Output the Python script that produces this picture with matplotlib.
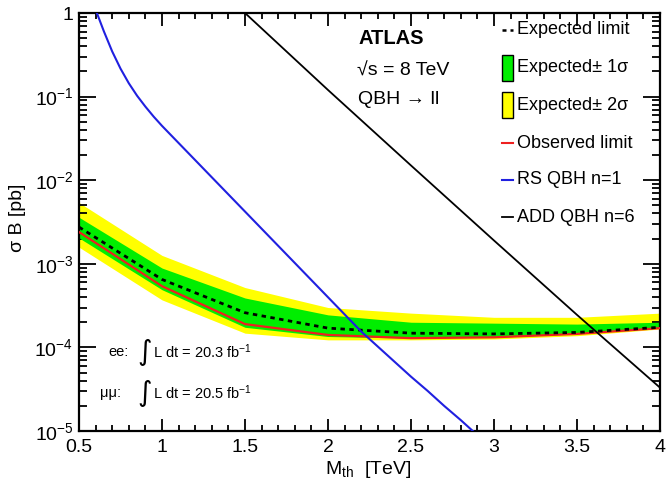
import matplotlib
matplotlib.use('Agg')
import matplotlib.pyplot as plt
from matplotlib.patches import Rectangle
from matplotlib.lines import Line2D
from matplotlib.ticker import FixedLocator, FuncFormatter, MultipleLocator, LogLocator, NullFormatter

plt.rcParams['font.family'] = ['Liberation Sans', 'DejaVu Sans']
plt.rcParams['mathtext.fontset'] = 'custom'
plt.rcParams['mathtext.rm'] = 'Liberation Sans'
plt.rcParams['mathtext.it'] = 'Liberation Sans:italic'
plt.rcParams['mathtext.bf'] = 'Liberation Sans:bold'
plt.rcParams['mathtext.sf'] = 'Liberation Sans'

# ---- data ----
mass = [0.5, 1.0, 1.5, 2.0, 2.5, 3.0, 3.5, 4.0]
exp2_up = [5.4e-3, 1.26e-3, 5.2e-4, 3.0e-4, 2.57e-4, 2.29e-4, 2.29e-4, 2.57e-4]
exp1_up = [3.6e-3, 8.9e-4, 3.9e-4, 2.45e-4, 2.0e-4, 1.95e-4, 1.9e-4, 2.0e-4]
expected = [2.75e-3, 6.5e-4, 2.6e-4, 1.7e-4, 1.48e-4, 1.45e-4, 1.51e-4, 1.74e-4]
observed = [2.4e-3, 5.4e-4, 1.9e-4, 1.41e-4, 1.29e-4, 1.32e-4, 1.45e-4, 1.70e-4]
exp1_dn = [2.04e-3, 4.9e-4, 1.74e-4, 1.35e-4, 1.29e-4, 1.32e-4, 1.45e-4, 1.70e-4]
exp2_dn = [1.58e-3, 3.7e-4, 1.48e-4, 1.23e-4, 1.23e-4, 1.26e-4, 1.38e-4, 1.66e-4]

mass_rs = [0.6, 0.65, 0.7, 0.75, 0.8, 0.85, 0.9, 0.95, 1.0, 1.1, 1.2, 1.3, 1.4, 1.5,
           1.6, 1.7, 1.8, 1.9, 2.0, 2.1, 2.2, 2.3, 2.4, 2.5, 2.6, 2.7, 2.8, 2.9]
log_rs = [0.04, -0.22, -0.46, -0.665, -0.84, -0.99, -1.12, -1.24, -1.35, -1.555,
          -1.76, -1.965, -2.17, -2.375, -2.58, -2.785, -2.99, -3.195, -3.40, -3.605,
          -3.81, -3.99, -4.17, -4.35, -4.52, -4.70, -4.87, -5.05]
xsec_rs = [10 ** v for v in log_rs]

mass_add = [1.4, 1.5, 2.0, 2.5, 3.0, 3.5, 4.0]
xsec_add = [1.5, 1.0, 1.2e-1, 1.5e-2, 1.9e-3, 2.45e-4, 3.3e-5]

xticks = [0.5, 1, 1.5, 2, 2.5, 3, 3.5, 4]
yticks = [1e-5, 1e-4, 1e-3, 1e-2, 1e-1, 1]
ytick_labels = ['10$^{-5}$', '10$^{-4}$', '10$^{-3}$', '10$^{-2}$', '10$^{-1}$', '1']

W, H = 667, 491
fig = plt.figure(figsize=(W / 100, H / 100), dpi=100)
ax = fig.add_axes([79 / W, 1 - 431 / H, (660 - 79) / W, (431 - 13) / H])

ax.fill_between(mass, exp2_dn, exp2_up, color='#ffff00', lw=0, zorder=1)
ax.fill_between(mass, exp1_dn, exp1_up, color='#00ee00', lw=0, zorder=2)
ax.plot(mass, observed, color='#ee2020', lw=1.6, zorder=3)
ax.plot(mass, expected, color='black', lw=2.0, dashes=(1.6, 1.6), zorder=4)
ax.plot(mass_rs, xsec_rs, color='#2020e0', lw=1.5, zorder=5)
ax.plot(mass_add, xsec_add, color='black', lw=1.3, zorder=5)

ax.set_yscale('log')
ax.set_xlim(0.5, 4)
ax.set_ylim(1e-5, 1)

ax.xaxis.set_major_locator(FixedLocator(xticks))
ax.xaxis.set_major_formatter(FuncFormatter(lambda v, p: ('%g' % v)))
ax.xaxis.set_minor_locator(MultipleLocator(0.1))
ax.yaxis.set_major_locator(FixedLocator(yticks))
ax.yaxis.set_major_formatter(FuncFormatter(lambda v, p: ytick_labels[yticks.index(min(yticks, key=lambda t: abs(t - v)))]))
ax.yaxis.set_minor_locator(LogLocator(base=10, subs=range(2, 10), numticks=20))
ax.yaxis.set_minor_formatter(NullFormatter())

ax.tick_params(axis='both', which='both', direction='in', top=True, right=True, width=1.3)
ax.tick_params(axis='x', which='major', length=9, labelsize=14, pad=6)
ax.tick_params(axis='x', which='minor', length=4.5)
ax.tick_params(axis='y', which='major', length=12, labelsize=14, pad=4)
ax.tick_params(axis='y', which='minor', length=6)
for s in ax.spines.values():
    s.set_linewidth(1.6)

fig.text(368 / W, 1 - 470 / H, r'M$_{\mathrm{th}}$  [TeV]', ha='center', va='center', fontsize=14)
fig.text(17 / W, 1 - 218 / H, '\u03c3 B [pb]', ha='center', va='center', rotation=90, fontsize=14)

fig.text(358 / W, 1 - 38 / H, 'ATLAS', fontsize=14.5, fontweight='bold', ha='left', va='center')
fig.text(357 / W, 1 - 71 / H, '\u221as = 8 TeV', fontsize=14, ha='left', va='center')
fig.text(358 / W, 1 - 100 / H, 'QBH \u2192 ll', fontsize=14, ha='left', va='center')

# luminosity annotations
fig.text(108 / W, 1 - 352 / H, 'ee:', fontsize=10.5, ha='left', va='center')
fig.text(137 / W, 1 - 352 / H, '\u222b', fontsize=20, ha='left', va='center', family=['DejaVu Sans'])
fig.text(153 / W, 1 - 352 / H, 'L dt = 20.3 fb$^{-1}$', fontsize=10.5, ha='left', va='center')
fig.text(100 / W, 1 - 393 / H, '\u03bc\u03bc:', fontsize=10.5, ha='left', va='center')
fig.text(137 / W, 1 - 393 / H, '\u222b', fontsize=20, ha='left', va='center', family=['DejaVu Sans'])
fig.text(153 / W, 1 - 393 / H, 'L dt = 20.5 fb$^{-1}$', fontsize=10.5, ha='left', va='center')

# legend
tf = fig.transFigure
lx0, lx1, tx = 502 / W, 513 / W, 517 / W
rows = [30, 68, 105, 143, 180, 217]
labels = ['Expected limit', 'Expected\u00b1 1\u03c3', 'Expected\u00b1 2\u03c3',
          'Observed limit', 'RS QBH n=1', 'ADD QBH n=6']
fig.add_artist(Line2D([lx0, lx1], [1 - rows[0] / H] * 2, transform=tf, color='black', lw=1.8, dashes=(1.6, 1.6)))
fig.add_artist(Rectangle((lx0, 1 - (rows[1] + 13) / H), lx1 - lx0, 26 / H, transform=tf,
                         facecolor='#00ee00', edgecolor='black', lw=1))
fig.add_artist(Rectangle((lx0, 1 - (rows[2] + 13) / H), lx1 - lx0, 26 / H, transform=tf,
                         facecolor='#ffff00', edgecolor='black', lw=1))
fig.add_artist(Line2D([lx0, lx1], [1 - rows[3] / H] * 2, transform=tf, color='#ee2020', lw=1.5))
fig.add_artist(Line2D([lx0, lx1], [1 - rows[4] / H] * 2, transform=tf, color='#2020e0', lw=1.5))
fig.add_artist(Line2D([lx0, lx1], [1 - rows[5] / H] * 2, transform=tf, color='black', lw=1.3))
for r, lab in zip(rows, labels):
    fig.text(tx, 1 - r / H, lab, fontsize=13, ha='left', va='center')

fig.savefig('out.png', dpi=100)
